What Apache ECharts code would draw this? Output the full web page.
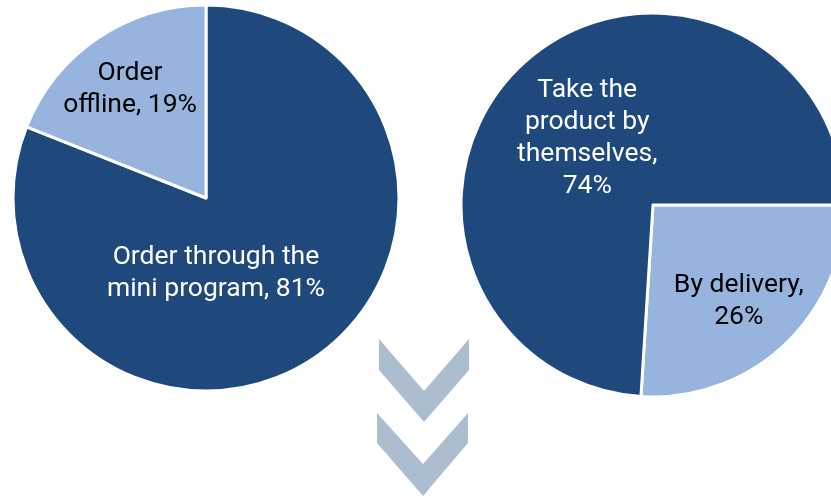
<!DOCTYPE html>
<html>
<head>
<meta charset="utf-8">
<script src="https://cdn.jsdelivr.net/npm/echarts@6/dist/echarts.min.js"></script>
<style>
  html, body { margin: 0; padding: 0; background: #fff; }
  #chart { width: 831px; height: 498px; }
</style>
</head>
<body>
<div id="chart"></div>
<script>
// order channel
var orderNames = ['Order through the\nmini program', 'Order\noffline'];
var orderValues = [81, 19];
// pickup method
var pickupNames = ['By delivery', 'Take the\nproduct by\nthemselves'];
var pickupValues = [26, 74];

var dark = '#1f497c';
var light = '#97b4de';

var chart = echarts.init(document.getElementById('chart'));

var labelBase = {
    show: true,
    position: 'inside',
    fontFamily: 'Roboto',
    fontSize: 26.5,
    lineHeight: 32,
    align: 'center',
    formatter: function (p) { return p.name + ', ' + p.value + '%'; }
};

chart.setOption({
    animation: false,
    series: [{
        type: 'pie',
        center: [206, 198],
        radius: 193,
        startAngle: 90,
        clockwise: true,
        itemStyle: { borderColor: '#fff', borderWidth: 3 },
        label: labelBase,
        labelLine: { show: false },
        data: [
            { name: orderNames[0], value: orderValues[0], itemStyle: { color: dark },
              label: { color: '#fff', offset: [-46, -7] } },
            { name: orderNames[1], value: orderValues[1], itemStyle: { color: light },
              label: { color: '#000', offset: [-20, -26],
                       formatter: function (p) { return 'Order\noffline, ' + p.value + '%'; } } }
        ]
    }, {
        type: 'pie',
        center: [653, 205],
        radius: 192,
        startAngle: 0,
        clockwise: true,
        itemStyle: { borderColor: '#fff', borderWidth: 3 },
        label: labelBase,
        labelLine: { show: false },
        data: [
            { name: pickupNames[0], value: pickupValues[0], itemStyle: { color: light },
              label: { color: '#000', offset: [18, 24],
                       formatter: function (p) { return p.name + ',\n' + p.value + '%'; } } },
            { name: pickupNames[1], value: pickupValues[1], itemStyle: { color: dark },
              label: { color: '#fff', offset: [2, 6],
                       formatter: function (p) { return p.name + ',\n' + p.value + '%'; } } }
        ]
    }],
    graphic: [{
        type: 'polygon',
        shape: { points: [[379, 339], [424, 391], [469, 339], [469, 370], [424, 422], [379, 370]] },
        style: { fill: '#adbdd0' }
    }, {
        type: 'polygon',
        shape: { points: [[377, 413], [423, 464], [468, 413], [468, 443], [423, 496], [377, 443]] },
        style: { fill: '#adbdd0' }
    }]
});
</script>
</body>
</html>
